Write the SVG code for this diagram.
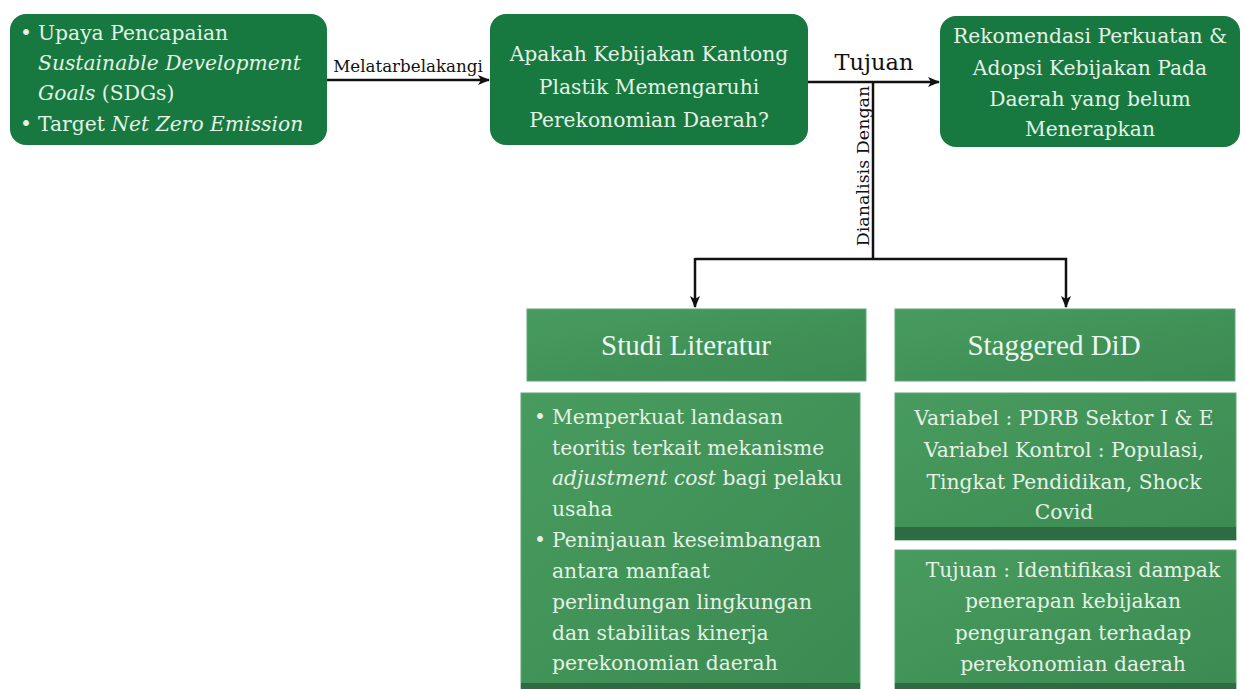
<svg xmlns="http://www.w3.org/2000/svg" width="1245" height="689" viewBox="0 0 1245 689">
<style>
.top{fill:#17793f}
.low{fill:url(#lg);stroke:#5fa676;stroke-width:1}
.band{fill:#2f6b42}
.t{font-family:"DejaVu Serif",serif;font-size:20.3px;fill:#e4f2e6}
.tc{text-anchor:middle}
.h{font-family:"Liberation Serif",serif;font-size:29px;fill:#eef7ef;text-anchor:middle}
.lbl{font-family:"DejaVu Serif",serif;fill:#111}
.ln{stroke:#111;stroke-width:2.5;fill:none}
</style>
<defs>
<linearGradient id="lg" x1="0" y1="0" x2="1" y2="1">
<stop offset="0" stop-color="#489b5e"/>
<stop offset="1" stop-color="#3b8a52"/>
</linearGradient>
<marker id="ah" viewBox="0 0 12 10" refX="11" refY="5" markerWidth="12" markerHeight="10" markerUnits="userSpaceOnUse" orient="auto">
<path d="M0,0 L12,5 L0,10 L3,5 z" fill="#111"/>
</marker>
</defs>

<g id="connectors">
<line class="ln" x1="327" y1="80" x2="489" y2="80" marker-end="url(#ah)"/>
<line class="ln" x1="808" y1="82" x2="939" y2="82" marker-end="url(#ah)"/>
<polyline class="ln" points="873,82 873,259"/>
<polyline class="ln" points="695,259 1066,259 1066,307" marker-end="url(#ah)"/>
<line class="ln" x1="695" y1="258" x2="695" y2="307" marker-end="url(#ah)"/>
<text class="lbl" x="408" y="72" font-size="16.7" text-anchor="middle">Melatarbelakangi</text>
<text class="lbl" x="874" y="70" font-size="22.5" text-anchor="middle">Tujuan</text>
<text class="lbl" font-size="17.5" text-anchor="middle" transform="translate(869,166) rotate(-90)">Dianalisis Dengan</text>
</g>

<g id="n-latar">
<rect class="top" x="10" y="14" width="317" height="131" rx="16"/>
<text class="t" x="20" y="40">•</text>
<text class="t" x="38" y="40">Upaya Pencapaian</text>
<text class="t" x="38" y="70" font-style="italic">Sustainable Development</text>
<text class="t" x="38" y="100"><tspan font-style="italic">Goals</tspan> (SDGs)</text>
<text class="t" x="20" y="131">•</text>
<text class="t" x="38" y="131">Target <tspan font-style="italic">Net Zero Emission</tspan></text>
</g>

<g id="n-pertanyaan">
<rect class="top" x="490" y="14" width="318" height="131" rx="16"/>
<text class="t tc" x="649" y="61">Apakah Kebijakan Kantong</text>
<text class="t tc" x="649" y="94">Plastik Memengaruhi</text>
<text class="t tc" x="649" y="127">Perekonomian Daerah?</text>
</g>

<g id="n-rekomendasi">
<rect class="top" x="940" y="16" width="300" height="131" rx="16"/>
<text class="t tc" x="1090" y="43">Rekomendasi Perkuatan &amp;</text>
<text class="t tc" x="1090" y="75">Adopsi Kebijakan Pada</text>
<text class="t tc" x="1090" y="106">Daerah yang belum</text>
<text class="t tc" x="1090" y="136">Menerapkan</text>
</g>

<g id="n-studi">
<rect class="low" x="527" y="309" width="339" height="72"/>
<text class="h" x="686" y="355">Studi Literatur</text>
</g>

<g id="n-did">
<rect class="low" x="895" y="309" width="340" height="72"/>
<text class="h" x="1054" y="355">Staggered DiD</text>
</g>

<g id="n-studi-isi">
<rect class="low" x="521" y="393" width="339" height="300"/>
<rect class="band" x="521" y="683" width="339" height="8"/>
<text class="t" x="534" y="424">•</text>
<text class="t" x="552" y="424">Memperkuat landasan</text>
<text class="t" x="552" y="455">teoritis terkait mekanisme</text>
<text class="t" x="552" y="485"><tspan font-style="italic">adjustment cost</tspan> bagi pelaku</text>
<text class="t" x="552" y="516">usaha</text>
<text class="t" x="534" y="547">•</text>
<text class="t" x="552" y="547">Peninjauan keseimbangan</text>
<text class="t" x="552" y="578">antara manfaat</text>
<text class="t" x="552" y="609">perlindungan lingkungan</text>
<text class="t" x="552" y="640">dan stabilitas kinerja</text>
<text class="t" x="552" y="670">perekonomian daerah</text>
</g>

<g id="n-variabel">
<rect class="low" x="895" y="393" width="341" height="147"/>
<rect class="band" x="895" y="527" width="341" height="13"/>
<text class="t tc" x="1064" y="425">Variabel : PDRB Sektor I &amp; E</text>
<text class="t tc" x="1064" y="457">Variabel Kontrol : Populasi,</text>
<text class="t tc" x="1064" y="489">Tingkat Pendidikan, Shock</text>
<text class="t tc" x="1064" y="519">Covid</text>
</g>

<g id="n-tujuan">
<rect class="low" x="895" y="550" width="341" height="143"/>
<rect class="band" x="895" y="683" width="341" height="8"/>
<text class="t tc" x="1073" y="577">Tujuan : Identifikasi dampak</text>
<text class="t tc" x="1073" y="608">penerapan kebijakan</text>
<text class="t tc" x="1073" y="640">pengurangan terhadap</text>
<text class="t tc" x="1073" y="671">perekonomian daerah</text>
</g>
</svg>
